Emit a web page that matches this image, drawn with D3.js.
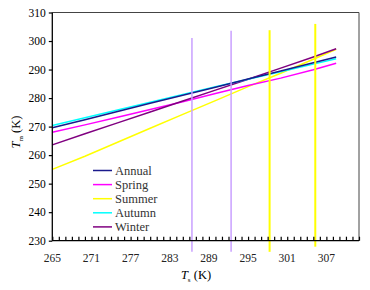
<!DOCTYPE html>
<html>

<head>
  <meta charset='utf-8'>
  <style>
    body { margin: 0; background: #fff; }
    text { font-family: "Liberation Serif", "Times New Roman", serif; }
  </style>
  <script src='https://cdn.jsdelivr.net/npm/d3@7/dist/d3.min.js'></script>
</head>

<body>

  <script>
    // surface temperature (K) and the mean temperature of each season
    const ts = [265, 270, 275, 280, 285, 290, 295, 300, 305, 308.5]
    const annual = [269.6, 272.4, 275.3, 278.2, 281.0, 283.8, 286.7, 289.5, 292.4, 294.4]
    const spring = [268.0, 270.6, 273.3, 276.0, 278.7, 281.6, 284.4, 287.0, 289.9, 292.2]
    const summer = [255.0, 259.6, 264.5, 269.4, 274.3, 279.1, 284.0, 288.7, 293.6, 297.1]
    const autumn = [270.4, 273.1, 275.8, 278.5, 281.3, 284.0, 286.6, 289.2, 291.9, 293.8]
    const winter = [263.6, 267.5, 271.3, 275.1, 279.0, 282.8, 286.6, 290.5, 294.4, 297.3]

    const seriesNames = ["Annual", "Spring", "Summer", "Autumn", "Winter"]
    const seriesColors = ["#1a1a8c", "#ff00ff", "#ffff00", "#00ffff", "#800080"]

    // vertical marker lines: x, bottom, top
    const markX = [286.4, 292.4, 298.3, 305.3]
    const markLow = [226.1, 226.1, 226.1, 227.9]
    const markHigh = [301.1, 303.6, 303.8, 306.0]
    const markColors = ["#c9a0ff", "#c9a0ff", "#ffff00", "#ffff00"]

    const xTicks = [265, 271, 277, 283, 289, 295, 301, 307]
    const yTicks = [230, 240, 250, 260, 270, 280, 290, 300, 310]

    const W = 370, H = 290
    const m = { left: 52.3, right: 359, top: 12.5, bottom: 240.7 }

    const svg = d3.select("body").append("svg")
      .attr("width", W).attr("height", H)

    const x = d3.scaleLinear([265, 312], [m.left, m.right])
    const y = d3.scaleLinear([230, 310], [m.bottom, m.top])

    // frame top/right
    svg.append("path")
      .attr("d", `M${m.left},${m.top}H${m.right}V${m.bottom}`)
      .attr("fill", "none").attr("stroke", "#444").attr("stroke-width", 1)

    // series lines
    const allSeries = [annual, spring, summer, autumn, winter]
    const line = d3.line().x((d, i) => x(ts[i])).y(d => y(d))
    const drawOrder = [2, 1, 4, 3, 0]
    drawOrder.forEach(k => {
      svg.append("path")
        .datum(allSeries[k])
        .attr("d", line)
        .attr("fill", "none")
        .attr("stroke", seriesColors[k])
        .attr("stroke-width", 1.5)
    })

    // vertical lines
    svg.append("g").selectAll("line")
      .data(markX)
      .join("line")
      .attr("x1", d => x(d)).attr("x2", d => x(d))
      .attr("y1", (d, i) => y(markLow[i]))
      .attr("y2", (d, i) => y(markHigh[i]))
      .attr("stroke", (d, i) => markColors[i])
      .attr("stroke-width", (d, i) => i < 2 ? 1.5 : 2)

    // x axis: minor ticks inward, labels every 6
    const xAxis = svg.append("g").attr("transform", `translate(0,${m.bottom})`)
    xAxis.call(d3.axisTop(x).tickValues(d3.range(265, 313, 1)).tickSize(4).tickFormat(""))
      .call(g => g.select(".domain").remove())
      .call(g => g.selectAll(".tick line").attr("stroke", "#000").attr("stroke-width", 1.2))
    xAxis.append("line").attr("x1", m.left).attr("x2", m.right).attr("stroke", "#000").attr("stroke-width", 1.3)
    xAxis.selectAll(".lab")
      .data(xTicks)
      .join("text")
      .attr("class", "lab")
      .attr("x", d => x(d)).attr("y", 21)
      .attr("text-anchor", "middle")
      .attr("font-size", 11.5)
      .attr("fill", "#222")
      .text(d => d)

    // y axis: outward ticks
    const yAxis = svg.append("g").attr("transform", `translate(${m.left},0)`)
    yAxis.call(d3.axisLeft(y).tickValues(yTicks).tickSize(3.5).tickPadding(3))
      .call(g => g.select(".domain").attr("d", `M0,${m.top}V${m.bottom}`).attr("stroke-width", 1.3))
      .call(g => g.selectAll(".tick line").attr("stroke-width", 1.2))
      .call(g => g.selectAll(".tick text")
        .attr("font-size", 11.5).attr("fill", "#000"))

    // axis titles
    const xt = svg.append("text").attr("x", 196).attr("y", 279)
      .attr("text-anchor", "middle").attr("font-size", 12.5)
    xt.append("tspan").attr("font-style", "italic").text("T")
    xt.append("tspan").attr("font-size", 7).attr("dy", 2.5).text("s")
    xt.append("tspan").attr("dy", -2.5).text(" (K)")

    const yt = svg.append("text")
      .attr("transform", "translate(20,132) rotate(-90)")
      .attr("text-anchor", "middle").attr("font-size", 12.5)
    yt.append("tspan").attr("font-style", "italic").text("T")
    yt.append("tspan").attr("font-size", 7).attr("dy", 2.5).text("m")
    yt.append("tspan").attr("dy", -2.5).text(" (K)")

    // legend
    const legend = svg.append("g").attr("transform", "translate(93,170.5)")
    const items = legend.selectAll("g")
      .data(seriesNames)
      .join("g")
      .attr("transform", (d, i) => `translate(0,${i * 14.1})`)
    items.append("line")
      .attr("x1", 0).attr("x2", 19)
      .attr("stroke", (d, i) => seriesColors[i])
      .attr("stroke-width", 1.5)
    items.append("text")
      .attr("x", 22).attr("y", 4.3)
      .attr("font-size", 12.5)
      .attr("fill", "#333")
      .text(d => d)
  </script>
</body>

</html>
